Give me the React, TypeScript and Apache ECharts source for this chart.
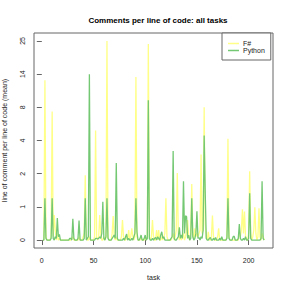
import React, { useEffect, useRef } from "react";
import * as echarts from "echarts";

const TITLE = "Comments per line of code: all tasks";
const X_NAME = "task";
const Y_NAME = "line of comment per line of code (mean)";
const X_TICKS = [0, 50, 100, 150, 200];
const Y_TICK_VALUES = [0, 1, 2, 4, 8, 14, 25];
const SERIES_NAMES = ["F#", "Python"];

// tasks 1..215
const FSHARP = [
  0, 0, 12.9, 0.1, 0, 0, 0, 0, 0.1, 7.5,
  0.1, 0.75, 0.3, 0, 0.2, 0, 0.05, 0, 0, 0,
  0, 0, 0, 0, 0, 0, 0, 0, 0.05, 0.1,
  0, 0, 0, 0, 0, 0.1, 0, 0, 0, 0.1,
  0.2, 1.95, 0.1, 0, 0, 0.1, 0, 0, 0, 0,
  0.1, 5.2, 0.1, 0, 0.1, 0.75, 0.2, 0, 0, 0.1,
  0, 0.1, 25, 0.1, 0, 0, 0, 0.2, 0.72, 0.1,
  0, 0.1, 0, 0, 0, 0, 0.1, 0.6, 0.1, 0,
  0, 0.1, 0, 0.3, 0, 0.1, 0.35, 0.1, 0, 0.1,
  13.5, 0.1, 0, 0, 0, 0.1, 0, 0, 0, 0.1,
  0, 0.1, 24, 0.1, 0, 0.1, 0.6, 0.1, 0, 0,
  0.3, 0, 0.3, 0, 0, 0.1, 0, 0.1, 0.2, 1.26,
  0.1, 0, 0, 0, 0, 0.1, 0.2, 0, 0.1, 0.3,
  2.04, 0.2, 0, 0.1, 0, 0.1, 0.2, 0, 0.1, 0.3,
  0.6, 0.1, 0, 0.2, 1.69, 0.2, 0, 0.35, 0.1, 0.2,
  0.1, 0.2, 0.3, 3.15, 0.2, 0.3, 8, 0.5, 0.1, 0,
  0.25, 0, 0, 0.1, 0.74, 0.1, 0, 0, 0, 0.1,
  0.35, 0, 0, 0, 0, 0, 0, 0, 0.1, 4.2,
  0.1, 0, 0, 0, 0, 0, 0, 0, 0, 0,
  0.2, 0.1, 0.3, 0.93, 0.2, 0.86, 0.1, 0, 0, 0.2,
  2.14, 0.2, 0, 0.1, 0.3, 0.99, 0.2, 0, 0.1, 0.96,
  0.1, 0, 0.2, 0.1, 0,
];

const PYTHON = [
  0, 0, 1.26, 0.05, 0, 0, 0, 0, 0.05, 1.26,
  0.05, 0, 0.1, 0.05, 0.66, 0.1, 0.17, 0, 0, 0,
  0, 0, 0, 0, 0, 0, 0.05, 0.05, 0, 0.64,
  0.05, 0, 0, 0, 0.05, 0.59, 0, 0, 0, 0,
  0.05, 1.26, 0, 0.05, 0.1, 14, 0, 0, 0, 0,
  0, 0.05, 0.05, 0.03, 0.05, 0.1, 0.05, 0.2, 1.15, 0.05,
  0, 0.1, 1.26, 0.05, 0, 0, 0, 0.05, 0.1, 0.15,
  0.05, 2.64, 0.05, 0, 0, 0, 0, 0, 0.05, 0,
  0.1, 0.18, 0, 0.05, 0, 0, 0.05, 0, 0.1, 0.2,
  1.26, 0.25, 0, 0, 0.05, 0.15, 0, 0, 0.05, 0.15,
  0, 0.05, 9.3, 0.05, 0, 0, 0.05, 0, 0.05, 0.08,
  0, 0.1, 0.05, 0, 0.15, 0.25, 0.05, 0.1, 0, 0,
  0, 0, 0, 0, 0.05, 0.1, 3.36, 0.05, 0, 0,
  0.05, 0.1, 0.38, 0.05, 0.15, 0.05, 1.77, 0.2, 0.73, 0.7,
  0.05, 0.15, 0, 0.05, 1.26, 0.1, 0, 0.05, 0.2, 0.87,
  0.05, 0.08, 0, 0.1, 0.05, 0.3, 4.6, 1.46, 0.05, 0,
  0, 0.05, 0.08, 0, 0, 0.05, 0, 0.08, 0, 0,
  0, 0.05, 0, 0.1, 0, 0, 0, 0, 0.05, 1.26,
  0.05, 0, 0, 0, 0.1, 0.12, 0, 0, 0, 0.05,
  0.48, 0.05, 0, 0, 0.05, 0, 0.1, 0, 0, 0.05,
  1.41, 0.05, 0, 0, 0, 0, 0, 0, 0, 0,
  0, 0.05, 1.77, 0.05, 0,
];

const TASKS = PYTHON.map((_, i) => i + 1);

// maps a value onto the axis where the tick values are equally spaced
function toPos(v: number): number {
  const t = Y_TICK_VALUES;
  if (v <= t[0]) return 0;
  for (let i = 1; i < t.length; i++) {
    if (v <= t[i]) return i - 1 + (v - t[i - 1]) / (t[i] - t[i - 1]);
  }
  return t.length - 1;
}

const FONT = "'Liberation Sans', Arial, Helvetica, sans-serif";

export default function App() {
  const ref = useRef<HTMLDivElement>(null);
  useEffect(() => {
    if (!ref.current) return;
    const chart = echarts.init(ref.current, undefined, { renderer: "svg" });
    const xMin = 1 - 0.04 * (215 - 1);
    const xMax = 215 + 0.04 * (215 - 1);
    const yMin = -0.04 * (Y_TICK_VALUES.length - 1);
    const yMax = (Y_TICK_VALUES.length - 1) * 1.04;
    chart.setOption({
      animation: false,
      backgroundColor: "#ffffff",
      textStyle: { fontFamily: FONT },
      title: {
        text: TITLE,
        left: 153,
        top: 11,
        textAlign: "center",
        textStyle: { fontSize: 8, fontWeight: "bold", color: "#000", fontFamily: FONT },
      },
      legend: {
        left: 222,
        top: 33,
        orient: "vertical",
        data: SERIES_NAMES.map((n) => ({ name: n, icon: "rect" })),
        itemWidth: 11,
        itemHeight: 1.5,
        itemGap: 0,
        padding: [7, 6, 6, 6],
        borderColor: "#666",
        borderWidth: 1,
        borderRadius: 0,
        backgroundColor: "#fff",
        textStyle: { fontSize: 7, color: "#222", lineHeight: 7, padding: [0, 0, 0, -1], fontFamily: FONT },
      },
      grid: {
        left: 34,
        top: 33,
        right: 18,
        bottom: 43,
        show: true,
        borderColor: "#666",
        borderWidth: 1,
        backgroundColor: "transparent",
        containLabel: false,
        outerBoundsMode: "none",
      },
      xAxis: {
        type: "value",
        min: xMin,
        max: xMax,
        name: X_NAME,
        nameLocation: "middle",
        nameGap: 26,
        nameTextStyle: { fontSize: 7, color: "#222", fontFamily: FONT },
        axisLine: { show: false },
        splitLine: { show: false },
        axisTick: {
          show: true,
          inside: false,
          length: 5,
          customValues: X_TICKS,
          lineStyle: { color: "#666" },
        },
        axisLabel: {
          customValues: X_TICKS,
          fontSize: 7,
          color: "#222",
          margin: 9,
          fontFamily: FONT,
        },
      },
      yAxis: {
        type: "value",
        min: yMin,
        max: yMax,
        name: Y_NAME,
        nameLocation: "middle",
        nameGap: 26,
        nameTextStyle: { fontSize: 7, color: "#222", fontFamily: FONT },
        axisLine: { show: false },
        splitLine: { show: false },
        axisTick: {
          show: true,
          length: 5,
          customValues: Y_TICK_VALUES.map((_, i) => i),
          lineStyle: { color: "#666" },
        },
        axisLabel: {
          customValues: Y_TICK_VALUES.map((_, i) => i),
          formatter: (v: number) => String(Y_TICK_VALUES[Math.round(v)]),
          rotate: 90,
          fontSize: 7,
          color: "#222",
          margin: 8,
          fontFamily: FONT,
        },
      },
      series: [
        {
          name: SERIES_NAMES[0],
          type: "line",
          data: TASKS.map((t, i) => [t, toPos(FSHARP[i])]),
          showSymbol: false,
          symbol: "none",
          lineStyle: { color: "#ffff88", width: 1.3 },
          itemStyle: { color: "#ffff88" },
          z: 2,
        },
        {
          name: SERIES_NAMES[1],
          type: "line",
          data: TASKS.map((t, i) => [t, toPos(PYTHON[i])]),
          showSymbol: false,
          symbol: "none",
          lineStyle: { color: "#74c874", width: 1.3 },
          itemStyle: { color: "#74c874" },
          z: 3,
        },
      ],
    });
    return () => chart.dispose();
  }, []);
  return <div ref={ref} style={{ width: 291, height: 291, position: "absolute", left: 0, top: 0 }} />;
}
